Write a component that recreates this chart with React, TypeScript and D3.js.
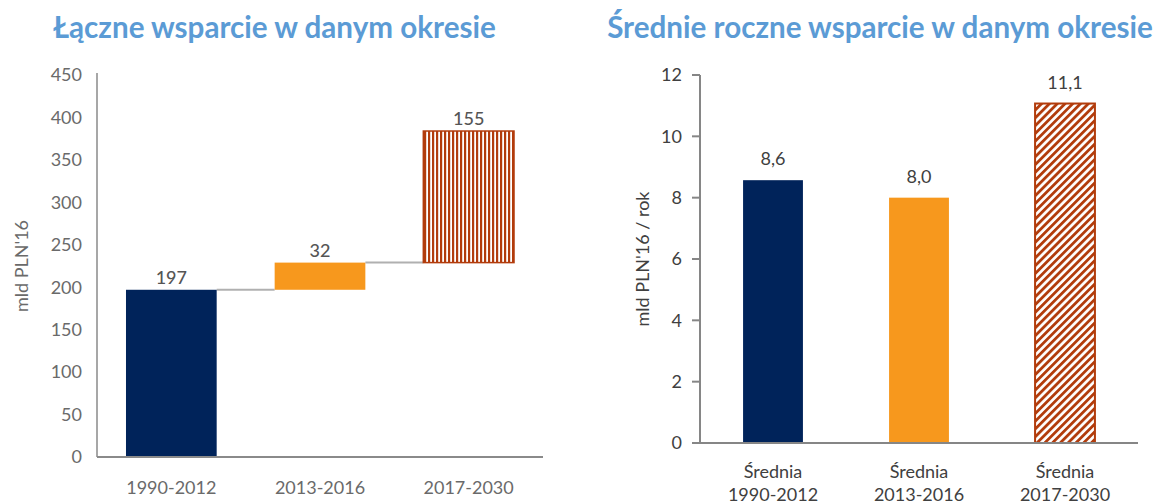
import React from "react";
import * as d3 from "d3";

const periods = ["1990-2012", "2013-2016", "2017-2030"];
const totals = [197, 32, 155];
const totalLabels = ["197", "32", "155"];
const leftTicks = [0, 50, 100, 150, 200, 250, 300, 350, 400, 450];

const avgCategories = ["Średnia|1990-2012", "Średnia|2013-2016", "Średnia|2017-2030"];
const averages = [8.57, 8.0, 11.07];
const avgLabels = ["8,6", "8,0", "11,1"];
const rightTicks = [0, 2, 4, 6, 8, 10, 12];

const NAVY = "#00235A";
const ORANGE = "#F7981D";
const BROWN = "#B23C0C";
const TITLE = "#5B9BD5";
const FONT = "Lato, 'Open Sans', sans-serif";

export default function App() {
  // Left waterfall
  const lx = d3.scaleBand<string>().domain(periods).range([97, 543]).paddingInner(0.39).paddingOuter(0.195);
  const ly = d3.scaleLinear().domain([0, 450]).range([457, 75]);
  let cum = 0;
  const steps = totals.map((v, i) => {
    const start = cum;
    cum += v;
    return { cat: periods[i], start, end: cum, label: totalLabels[i], i };
  });
  const fills = [NAVY, ORANGE, "url(#vstripes)"];

  // Right bars
  const rx = d3.scaleBand<string>().domain(avgCategories).range([700, 1138]).paddingInner(0.59).paddingOuter(0.295);
  const ry = d3.scaleLinear().domain([0, 12]).range([443, 75]);
  const rfills = [NAVY, ORANGE, "url(#dstripes)"];

  return (
    <svg width={1156} height={504} style={{ position: "absolute", left: 0, top: 0 }} fontFamily={FONT}>
      <defs>
        <pattern id="vstripes" patternUnits="userSpaceOnUse" width={4} height={10}>
          <rect width={4} height={10} fill="#ffffff" />
          <rect width={2.2} height={10} fill={BROWN} />
        </pattern>
        <pattern id="dstripes" patternUnits="userSpaceOnUse" width={5.5} height={6} patternTransform="rotate(45)">
          <rect width={5.5} height={6} fill="#ffffff" />
          <rect width={2.8} height={6} fill={BROWN} />
        </pattern>
      </defs>

      {/* Titles */}
      <text x={274.5} y={38} textAnchor="middle" fontSize={29.6} fontWeight={700} fill={TITLE}>
        Łączne wsparcie w danym okresie
      </text>
      <text x={880} y={38} textAnchor="middle" fontSize={29.6} fontWeight={700} fill={TITLE}>
        Średnie roczne wsparcie w danym okresie
      </text>

      {/* Left chart */}
      <g>
        {leftTicks.map((t) => (
          <text key={t} x={82} y={ly(t)} dy="0.35em" textAnchor="end" fontSize={18} fill="#6a6a6a">
            {t}
          </text>
        ))}
        <text transform={`translate(28,${(ly(0) + ly(450)) / 2 + 0}) rotate(-90)`} textAnchor="middle" fontSize={18} fill="#6a6a6a">
          mld PLN'16
        </text>
        {steps.slice(0, -1).map((s, i) => (
          <line key={"c" + i}
            x1={(lx(s.cat) as number) + lx.bandwidth()}
            x2={lx(periods[i + 1]) as number}
            y1={ly(s.end)} y2={ly(s.end)}
            stroke="#b0b0b0" strokeWidth={2} />
        ))}
        {steps.map((s) => (
          <g key={s.cat}>
            <rect x={lx(s.cat)} y={ly(s.end)} width={lx.bandwidth()} height={ly(s.start) - ly(s.end)}
              fill={fills[s.i]} stroke={s.i === 2 ? BROWN : "none"} strokeWidth={1.5} />
            <text x={(lx(s.cat) as number) + lx.bandwidth() / 2} y={ly(s.end) - 6} textAnchor="middle" fontSize={18} fill="#555555" fontWeight={500}>
              {s.label}
            </text>
            <text x={(lx(s.cat) as number) + lx.bandwidth() / 2} y={494} textAnchor="middle" fontSize={18} fill="#6a6a6a">
              {s.cat}
            </text>
          </g>
        ))}
        <line x1={97} x2={97} y1={73} y2={ly(0)} stroke="#8a8a8a" strokeWidth={1.5} />
        <line x1={97} x2={543} y1={ly(0)} y2={ly(0)} stroke="#8a8a8a" strokeWidth={2} />
      </g>

      {/* Right chart */}
      <g>
        {rightTicks.map((t) => (
          <g key={t}>
            <line x1={692} x2={700} y1={ry(t)} y2={ry(t)} stroke="#868686" strokeWidth={2} />
            <text x={682} y={ry(t)} dy="0.35em" textAnchor="end" fontSize={18} fill="#404040">
              {t}
            </text>
          </g>
        ))}
        <text transform={`translate(649,${(ry(0) + ry(12)) / 2}) rotate(-90)`} textAnchor="middle" fontSize={18} fill="#404040">
          mld PLN'16 / rok
        </text>
        {avgCategories.map((c, i) => {
          const x0 = rx(c) as number;
          const [l1, l2] = c.split("|");
          return (
            <g key={c}>
              <rect x={x0} y={ry(averages[i])} width={rx.bandwidth()} height={ry(0) - ry(averages[i])}
                fill={rfills[i]} stroke={i === 2 ? BROWN : "none"} strokeWidth={2} />
              <text x={x0 + rx.bandwidth() / 2} y={ry(averages[i]) - 15} textAnchor="middle" fontSize={18} fill="#404040">
                {avgLabels[i]}
              </text>
              <text x={x0 + rx.bandwidth() / 2} y={478} textAnchor="middle" fontSize={18} fill="#404040">
                {l1}
              </text>
              <text x={x0 + rx.bandwidth() / 2} y={501} textAnchor="middle" fontSize={18} fill="#404040">
                {l2}
              </text>
            </g>
          );
        })}
        <line x1={700} x2={700} y1={ry(12)} y2={ry(0)} stroke="#868686" strokeWidth={2} />
        <line x1={699} x2={1138} y1={ry(0)} y2={ry(0)} stroke="#868686" strokeWidth={2} />
      </g>
    </svg>
  );
}
